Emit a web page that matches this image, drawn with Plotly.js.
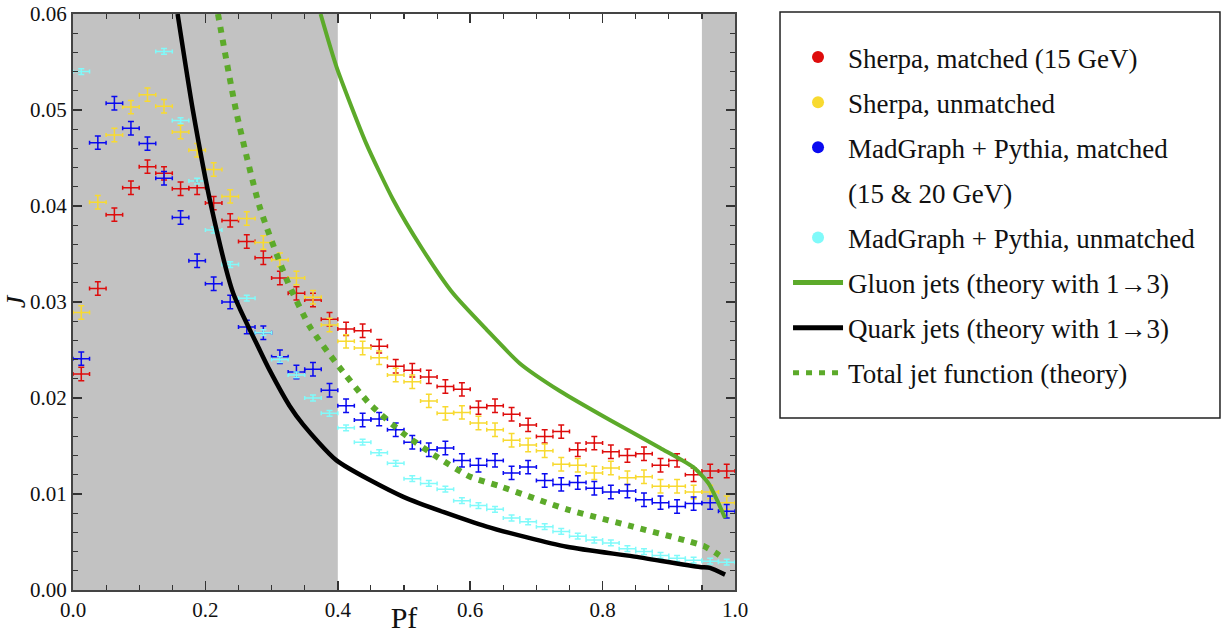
<!DOCTYPE html>
<html>
<head>
<meta charset="utf-8">
<script src="https://cdn.plot.ly/plotly-3.0.1.min.js"></script>
<style>html,body{margin:0;padding:0;background:#fff;}#chart{width:1222px;height:634px;}</style>
</head>
<body>
<div id="chart"></div>
<script>
// Bin centres in Pf
const pf = [0.0125,0.0375,0.0625,0.0875,0.1125,0.1375,0.1625,0.1875,0.2125,0.2375,
            0.2625,0.2875,0.3125,0.3375,0.3625,0.3875,0.4125,0.4375,0.4625,0.4875,
            0.5125,0.5375,0.5625,0.5875,0.6125,0.6375,0.6625,0.6875,0.7125,0.7375,
            0.7625,0.7875,0.8125,0.8375,0.8625,0.8875,0.9125,0.9375,0.9625,0.9875];
const binHalfWidth = 0.0125;

const sherpaMatched = [0.0225,0.0314,0.0391,0.0419,0.0441,0.0434,0.0418,0.0419,0.0403,0.0385,
                       0.0363,0.0346,0.0325,0.0309,0.0302,0.0282,0.0272,0.0270,0.0254,0.0233,
                       0.0229,0.0222,0.0212,0.0209,0.0190,0.0192,0.0183,0.0172,0.0160,0.0165,
                       0.0146,0.0153,0.0144,0.0140,0.0142,0.0130,0.0135,0.0120,0.0124,0.0124];
const sherpaUnmatched = [0.0289,0.0404,0.0474,0.0503,0.0516,0.0504,0.0477,0.0458,0.0438,0.0410,
                         0.0387,0.0362,0.0344,0.0325,0.0305,0.0276,0.0259,0.0252,0.0242,0.0224,
                         0.0217,0.0197,0.0184,0.0185,0.0174,0.0167,0.0156,0.0151,0.0145,0.0131,
                         0.0130,0.0122,0.0127,0.0117,0.0118,0.0108,0.0108,0.0102,0.0102,0.0091];
const mgMatched = [0.0241,0.0466,0.0507,0.0481,0.0465,0.0429,0.0388,0.0343,0.0319,0.0300,
                   0.0274,0.0268,0.0243,0.0227,0.0230,0.0208,0.0192,0.0177,0.0178,0.0167,
                   0.0154,0.0146,0.0148,0.0135,0.0130,0.0135,0.0122,0.0128,0.0114,0.0110,
                   0.0112,0.0106,0.0102,0.0103,0.0094,0.0091,0.0087,0.0090,0.0091,0.0082];
const mgUnmatched = [0.0540,null,null,null,null,0.0561,0.0489,0.0426,0.0375,0.0339,
                     0.0304,0.0268,0.0240,0.0224,0.0200,0.0184,0.0169,0.0154,0.0143,0.0132,
                     0.0116,0.0111,0.0105,0.0093,0.0088,0.0084,0.0075,0.0071,0.0066,0.0061,
                     0.0056,0.0052,0.0049,0.0043,0.0040,0.0036,0.0033,0.0031,0.0030,0.0029];

const gluonX = [0.374,0.398,0.443,0.484,0.527,0.574,0.625,0.675,0.736,0.811,0.887,0.937,0.960,0.985];
const gluonY = [0.0600,0.0545,0.0465,0.0406,0.0356,0.0309,0.0271,0.0236,0.0207,0.0177,0.0148,0.0128,0.0111,0.0075];
const quarkX = [0.158,0.181,0.209,0.242,0.282,0.297,0.327,0.348,0.398,0.499,0.625,0.746,0.846,0.947,0.962,0.985];
const quarkY = [0.0600,0.0500,0.0399,0.0309,0.0250,0.0229,0.0192,0.0172,0.0135,0.0097,0.0066,0.0045,0.0035,0.0024,0.0023,0.0016];
const totalX = [0.219,0.247,0.282,0.323,0.358,0.398,0.448,0.499,0.549,0.600,0.645,0.746,0.846,0.952,0.970,0.985];
const totalY = [0.0600,0.0497,0.0399,0.0323,0.0274,0.0236,0.0194,0.0163,0.0139,0.0118,0.0108,0.0084,0.0066,0.0046,0.0039,0.0032];

const names = ['Sherpa, matched (15 GeV)','Sherpa, unmatched','MadGraph + Pythia, matched','(15 & 20 GeV)',
               'MadGraph + Pythia, unmatched','Gluon jets (theory with 1\u21923)','Quark jets (theory with 1\u21923)',
               'Total jet function (theory)'];

const GREEN = 'rgb(92,170,42)';
const serif = "'Liberation Serif', 'Times New Roman', serif";

function pts(y, name, col, ey, grp) {
  return {
    x: pf, y: y, name: name, type: 'scatter', mode: 'markers', legendgroup: grp,
    marker: {color: col, size: 2},
    error_x: {type: 'constant', value: binHalfWidth, color: col, thickness: 1.5, width: 2},
    error_y: {type: 'constant', value: ey, color: col, thickness: 1.5, width: 3},
    hoverinfo: 'x+y'
  };
}

const data = [
  pts(sherpaMatched, names[0], 'rgb(222,12,12)', 0.0007, 'g1'),
  pts(sherpaUnmatched, names[1], 'rgb(248,218,48)', 0.0007, 'g2'),
  pts(mgMatched, names[2], 'rgb(10,10,240)', 0.0007, 'g3'),
  {x: [null], y: [null], name: names[3], type: 'scatter', mode: 'markers', legendgroup: 'g3b',
   marker: {color: 'rgba(0,0,0,0)', size: 2}, hoverinfo: 'skip'},
  pts(mgUnmatched, names[4], 'rgb(128,250,250)', 0.0003, 'g4'),
  {x: gluonX, y: gluonY, name: names[5], type: 'scatter', mode: 'lines', legendgroup: 'g5',
   line: {color: GREEN, width: 4, shape: 'spline', smoothing: 0.6}},
  {x: quarkX, y: quarkY, name: names[6], type: 'scatter', mode: 'lines', legendgroup: 'g6',
   line: {color: 'black', width: 4.5, shape: 'spline', smoothing: 0.6}},
  {x: totalX, y: totalY, name: names[7], type: 'scatter', mode: 'lines', legendgroup: 'g7',
   line: {color: GREEN, width: 6, dash: '6px,7px', shape: 'spline', smoothing: 0.6}}
];

const axisCommon = {
  showgrid: false, zeroline: false, showline: true, linecolor: '#444', linewidth: 2,
  mirror: 'ticks', ticks: 'inside', ticklen: 9, tickwidth: 1.5, tickcolor: '#333',
  tickfont: {family: serif, size: 21, color: '#111'}
};

const layout = {
  width: 1222, height: 634,
  margin: {l: 73, r: 487, t: 14, b: 44, pad: 0},
  paper_bgcolor: '#fff', plot_bgcolor: '#fff',
  showlegend: true,
  xaxis: Object.assign({}, axisCommon, {
    range: [0, 1], tick0: 0, dtick: 0.2, tickformat: '.1f',
    minor: {dtick: 0.05, ticks: 'inside', ticklen: 5, tickwidth: 1.2, tickcolor: '#333'},
    title: {text: 'Pf', font: {family: serif, size: 30, color: '#111'}, standoff: 4}
  }),
  yaxis: Object.assign({}, axisCommon, {
    range: [0, 0.06], tick0: 0, dtick: 0.01, tickformat: '.2f',
    minor: {dtick: 0.002, ticks: 'inside', ticklen: 5, tickwidth: 1.2, tickcolor: '#333'},
    title: {text: '<i>J</i>', font: {family: serif, size: 28, color: '#111'}, standoff: 4}
  }),
  legend: {
    x: 1.0801, xanchor: 'left', y: 0.967, yanchor: 'top',
    font: {family: serif, size: 27, color: '#111'},
    bgcolor: 'rgba(0,0,0,0)', borderwidth: 0, itemwidth: 50,
    tracegroupgap: 7, itemsizing: 'constant', traceorder: 'grouped'
  },
  shapes: [
    {type: 'rect', xref: 'x', yref: 'y', x0: 0, x1: 0.4, y0: 0, y1: 0.06,
     fillcolor: '#c2c2c2', line: {width: 0}, layer: 'below'},
    {type: 'rect', xref: 'x', yref: 'y', x0: 0.95, x1: 1, y0: 0, y1: 0.06,
     fillcolor: '#c2c2c2', line: {width: 0}, layer: 'below'},
    {type: 'rect', xref: 'paper', yref: 'paper', x0: 1.068, x1: 1.7326, y0: 0.2986, y1: 1.0035,
     fillcolor: 'rgba(0,0,0,0)', line: {color: '#222', width: 1.5}}
  ]
};

Plotly.newPlot('chart', data, layout, {displayModeBar: false, staticPlot: true});
</script>
</body>
</html>
